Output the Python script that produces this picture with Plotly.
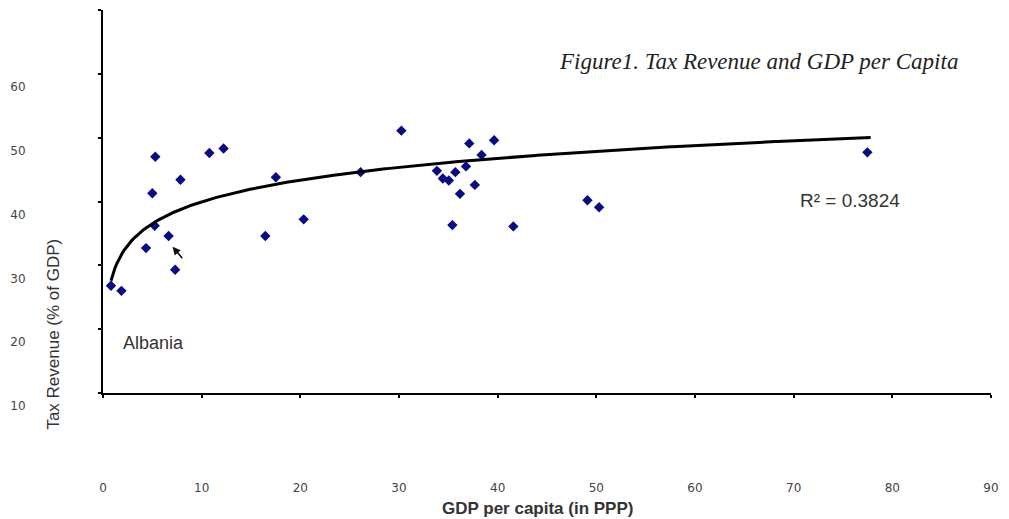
import numpy as np
import plotly.graph_objects as go

# GDP per capita (PPP, thousands) and tax revenue (% of GDP) by country
gdp_per_capita = [0.81, 1.87, 4.36, 5.00, 5.24, 5.30, 6.65, 7.31, 7.85, 10.78,
                  12.22, 16.45, 17.52, 20.34, 26.11, 30.24, 33.84, 34.44, 35.05, 35.41,
                  35.71, 36.18, 36.79, 37.12, 37.69, 38.37, 39.64, 41.59, 49.10, 50.28,
                  77.47]
tax_revenue = [26.8, 26.0, 32.7, 41.3, 36.2, 47.0, 34.6, 29.3, 43.4, 47.6,
               48.3, 34.6, 43.8, 37.2, 44.6, 51.1, 44.8, 43.6, 43.3, 36.3,
               44.6, 41.2, 45.5, 49.1, 42.6, 47.3, 49.6, 36.1, 40.2, 39.1,
               47.7]

x_ticks = [0, 10, 20, 30, 40, 50, 60, 70, 80, 90]
y_ticks = [10, 20, 30, 40, 50, 60, 70]
y_tick_text = ["10", "20", "30", "40", "50", "60", ""]

# Logarithmic trend line: y = a * ln(x) + b
trend_a = 4.92
trend_b = 28.62
trend_x_end = 77.8
r_squared_text = "R² = 0.3824"

trend_x = np.linspace(min(gdp_per_capita), trend_x_end, 400)
trend_y = trend_a * np.log(trend_x) + trend_b

fig = go.Figure()
fig.add_trace(go.Scatter(
    x=gdp_per_capita, y=tax_revenue, mode="markers",
    marker=dict(symbol="diamond", size=8, color="#0a0a84", line=dict(width=0)),
    showlegend=False, hoverinfo="x+y",
))
fig.add_trace(go.Scatter(
    x=trend_x, y=trend_y, mode="lines",
    line=dict(color="black", width=3),
    showlegend=False, hoverinfo="skip",
))

fig.update_layout(
    width=1009, height=519,
    margin=dict(l=101, r=15, t=10, b=126),
    paper_bgcolor="white", plot_bgcolor="white",
    font=dict(family="Liberation Sans, Arial, sans-serif", color="#333333"),
    xaxis=dict(
        range=[0, 90], tickvals=x_ticks, ticktext=[str(v) for v in x_ticks],
        showgrid=False, zeroline=False,
        showline=True, linecolor="black", linewidth=2,
        ticks="outside", ticklen=3, tickwidth=2, tickcolor="black",
        ticklabelstandoff=80,
        tickfont=dict(family="DejaVu Sans, sans-serif", size=12, color="#444444"),
    ),
    yaxis=dict(
        range=[10, 70], tickvals=y_ticks, ticktext=y_tick_text,
        showgrid=False, zeroline=False,
        showline=True, linecolor="black", linewidth=2,
        ticks="outside", ticklen=3, tickwidth=2, tickcolor="black",
        ticklabelstandoff=70, ticklabelshift=13,
        tickfont=dict(family="DejaVu Sans, sans-serif", size=12, color="#444444"),
    ),
)

fig.add_annotation(
    text="Figure1. Tax Revenue and GDP per Capita",
    xref="paper", yref="paper", x=0.5108, y=0.8668,
    xanchor="left", yanchor="middle", showarrow=False,
    font=dict(family="Liberation Serif, Times New Roman, serif", size=23,
              style="italic", color="#222222"),
)
fig.add_annotation(
    text=r_squared_text, xref="x", yref="y", x=75.66, y=40.13,
    showarrow=False, font=dict(size=19, color="#333333"),
)
fig.add_annotation(
    text="Albania", xref="x", yref="y", x=5.1, y=17.83,
    showarrow=False, font=dict(size=18, color="#333333"),
)
# Pointer arrow next to the Albania observation
fig.add_annotation(
    text="", xref="x", yref="y", x=7.05, y=32.92,
    ax=11, ay=13, showarrow=True,
    arrowhead=2, arrowsize=1, arrowwidth=1.6, arrowcolor="#111111",
)
fig.add_annotation(
    text="Tax Revenue (% of GDP)", xref="paper", yref="paper",
    x=-0.0568, y=0.154, textangle=-90, showarrow=False,
    xanchor="center", yanchor="middle",
    font=dict(size=17, color="#333333"),
)
fig.add_annotation(
    text="<b>GDP per capita (in PPP)</b>", xref="paper", yref="paper",
    x=0.4895, y=-0.302, showarrow=False,
    xanchor="center", yanchor="middle",
    font=dict(size=17, color="#333333"),
)

fig.write_html("out.html")
